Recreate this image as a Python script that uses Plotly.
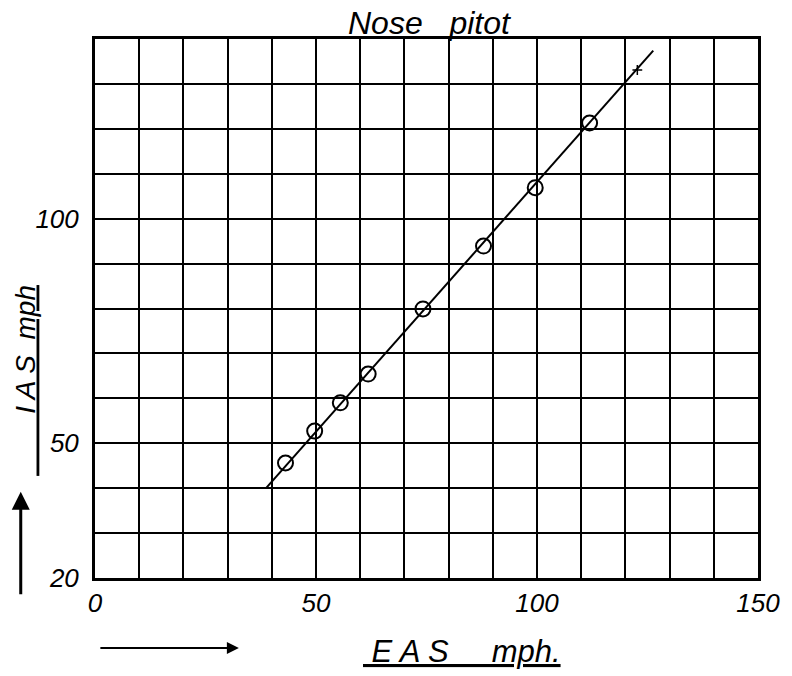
import plotly.graph_objects as go

# Data
eas_points = [43.1, 49.7, 55.5, 61.8, 74.2, 87.9, 99.6, 111.9]
ias_points = [45.6, 52.7, 59.0, 65.4, 79.9, 93.9, 106.9, 121.3]
fit_eas = [38.7, 126.3]
fit_ias = [40.0, 137.4]
cross_eas = [122.7]
cross_ias = [133.1]

x_ticks = [0, 50, 100, 150]
y_ticks = [20, 50, 100]

FONT = "Liberation Sans"

fig = go.Figure()
fig.add_trace(go.Scatter(x=fit_eas, y=fit_ias, mode="lines",
                         line=dict(color="black", width=2), showlegend=False))
fig.add_trace(go.Scatter(x=cross_eas, y=cross_ias, mode="markers",
                         marker=dict(symbol="cross-thin-open", size=7, color="black",
                                     line=dict(color="black", width=1.5)),
                         showlegend=False))
fig.add_trace(go.Scatter(x=eas_points, y=ias_points, mode="markers",
                         marker=dict(symbol="circle-open", size=15, color="black",
                                     line=dict(color="black", width=2)),
                         showlegend=False))

axis_common = dict(
    showgrid=True, gridcolor="black", gridwidth=2.2,
    showline=True, linecolor="black", linewidth=3, mirror=True,
    zeroline=False, ticks="",
    tickfont=dict(family=FONT, size=26, color="black", style="italic"),
    minor=dict(dtick=10, showgrid=True, gridcolor="black", gridwidth=2.2),
)

fig.update_xaxes(range=[0, 150], tickvals=x_ticks, ticklabelstandoff=0, **axis_common)
fig.update_yaxes(range=[20, 140], tickvals=y_ticks, ticklabelstandoff=8, **axis_common)

fig.update_layout(
    width=792, height=676,
    margin=dict(l=95, r=30, t=39, b=98),
    plot_bgcolor="white", paper_bgcolor="white",
    font=dict(family=FONT, color="black"),
)

NB = "&nbsp;"
fig.add_annotation(text="Nose" + NB * 3 + "pitot", x=0.505, y=1.0, xref="paper", yref="paper",
                   xanchor="center", yanchor="bottom", showarrow=False, yshift=-4,
                   font=dict(family=FONT, size=32, color="black", style="italic"))
fig.add_annotation(text="<u>" + NB + "E A S" + NB * 5 + "mph.</u>", x=0.553, y=-0.137,
                   xref="paper", yref="paper", xanchor="center", yanchor="middle",
                   showarrow=False, font=dict(family=FONT, size=31, color="black", style="italic"))
fig.add_annotation(text="<u>" + NB * 8 + "I A S" + NB * 2 + "mph</u>", x=-0.106, y=0.367,
                   xref="paper", yref="paper", xanchor="center", yanchor="middle",
                   showarrow=False, textangle=-90,
                   font=dict(family=FONT, size=28, color="black", style="italic"))
# Arrows
fig.add_annotation(x=0.217, y=-0.130, xref="paper", yref="paper", ax=-140, ay=0,
                   showarrow=True, arrowhead=2, arrowsize=1.2, arrowwidth=2, arrowcolor="black", text="")
fig.add_annotation(x=-0.112, y=0.160, xref="paper", yref="paper", ax=0, ay=104,
                   showarrow=True, arrowhead=2, arrowsize=1.2, arrowwidth=3, arrowcolor="black", text="")

fig.write_html("out.html", config={"displayModeBar": False},
               post_script="document.body.style.margin='0';")
